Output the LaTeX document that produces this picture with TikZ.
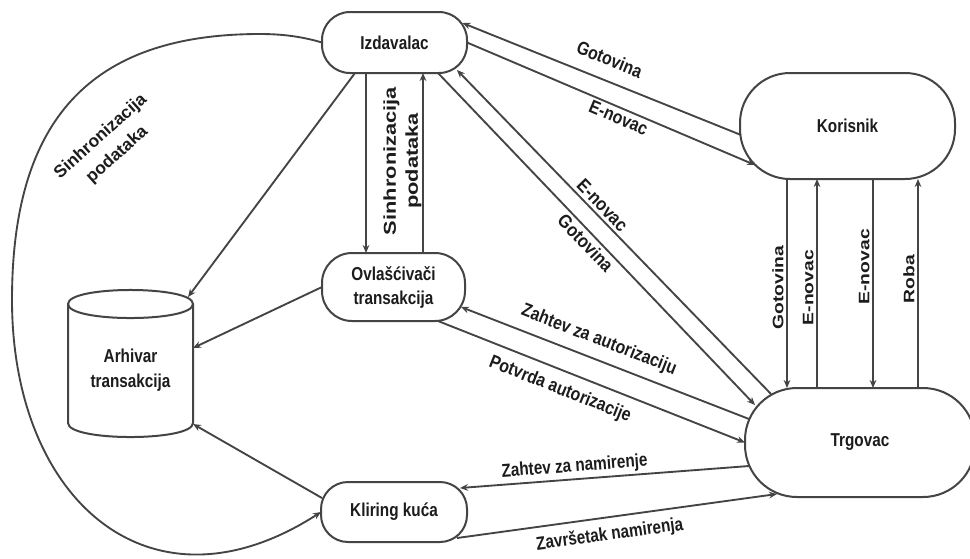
\documentclass[tikz,border=0pt]{standalone}
\usepackage{fontspec}
\setmainfont{Liberation Sans}
% one family per text direction, each with its own width factor
\newfontfamily\hfont{Liberation Sans}[FakeStretch=0.82]
\newfontfamily\mfont{Liberation Sans}[FakeStretch=0.85]
\newfontfamily\dfont{Liberation Sans}[FakeStretch=0.88]
\newfontfamily\cfont{Liberation Sans}
\newfontfamily\vfont{Liberation Sans}[FakeStretch=1.27]
\usetikzlibrary{arrows.meta,calc}
\definecolor{edgecol}{HTML}{444444}
\definecolor{inkcol}{HTML}{1C1C1C}
\begin{document}
\begin{tikzpicture}[x=0.75pt,y=-0.75pt,
  every node/.style={text=inkcol},
  pill/.style n args={3}{draw=edgecol, line width=1.5pt, rounded corners=#3,
    minimum width=#1, minimum height=#2, inner sep=0pt, outer sep=0pt, align=center,
    font=\hfont\fontsize{14}{18}\selectfont\bfseries},
  flow/.style={draw=edgecol, line width=1.4pt, -{Stealth[length=6pt,width=5pt]}},
  backflow/.style={draw=edgecol, line width=1.4pt, {Stealth[length=6pt,width=5pt]}-},
  lbl/.style={sloped, inner sep=2pt, align=center},
  lblh/.style={lbl, font=\hfont\fontsize{14}{18}\selectfont\bfseries},
  lblm/.style={lbl, font=\mfont\fontsize{14}{18}\selectfont\bfseries},
  lbld/.style={lbl, font=\dfont\fontsize{14}{18}\selectfont\bfseries},
  lblv/.style={lbl, font=\vfont\fontsize{11.4}{16}\selectfont\bfseries},
]
\fill[white] (0,0) rectangle (970,558);
\useasboundingbox (0,0) rectangle (970,558);

% participants
\node[pill={108.75pt}{45.75pt}{21pt}]   (iz) at (394.5,42.5) {Izdavalac};
\node[pill={161.25pt}{79.5pt}{37.5pt}]  (ko) at (847.5,126)  {Korisnik};
\node[pill={107.25pt}{51pt}{22.5pt}]    (ov) at (393.5,287)  {Ovlašćivači\\transakcija};
\node[pill={109.5pt}{45pt}{20.25pt}]    (kl) at (394,512)    {Kliring kuća};
\node[pill={172.5pt}{81.75pt}{39pt}]    (tr) at (860,442.5)  {Trgovac};
\node[minimum width=93.75pt, minimum height=99.75pt, inner sep=0pt, outer sep=0pt,
      align=center, font=\hfont\fontsize{14}{18.75}\selectfont\bfseries]
      (arh) at (130.5,370.5) {Arhivar\\transakcija};

% archive drawn as a cylinder
\draw[edgecol, line width=1.5pt]
  (68,304) .. controls (68,285.3) and (193,285.3) .. (193,304)
           .. controls (193,322.7) and (68,322.7) .. cycle;
\draw[edgecol, line width=1.5pt]
  (68,304) -- (68,423) .. controls (68,441.7) and (193,441.7) .. (193,423) -- (193,304);

% issuer <-> user
\draw[flow] ($(ko.center)+(-106.5,9)$) -- node[lblm,above=8pt,pos=.5]{Gotovina} ($(iz.center)+(68,-19.5)$);
\draw[flow] (iz.east) -- node[lblm,below,pos=.54]{E-novac} ($(ko.center)+(-92.5,39)$);

% issuer <-> merchant
\draw[flow] ($(tr.center)+(-89,-48.5)$) -- node[lbld,above,pos=.56]{E-novac} ($(iz.center)+(62.5,27.5)$);
\draw[flow] ($(iz.center)+(43.5,30.5)$) -- node[lbld,below,pos=.49]{Gotovina} ($(tr.center)+(-105,-37.5)$);

% issuer <-> authorizers
\draw[backflow] ($(ov.north)+(-27.5,0)$) coordinate (s1) -- (s1 |- iz.south);
\draw[flow] ($(ov.north)+(29.5,0)$) coordinate (s2) -- (s2 |- iz.south);
\node[rotate=90, align=center, font=\vfont\fontsize{12.9}{16.5}\selectfont\bfseries]
  (syncv) at ($(ov.north)+(9,-92)$) {Sinhronizacija\\podataka};

% archive inputs
\draw[flow] ($(iz.center)+(-39.5,30.5)$) -- ($(arh.center)+(57.5,-73.5)$);
\draw[flow] (ov.west) -- ($(arh.center)+(62.5,-22.5)$);
\draw[flow] ($(kl.center)+(-72,-14)$) -- ($(arh.center)+(62.5,53.5)$);

% issuer -> clearing house, around the left side
\draw[flow] (iz.west) .. controls (300,36) and (280,34) .. (260,34)
  .. controls (90,34) and (12,120) .. (12,300)
  .. controls (12,500) and (150,622) .. (kl.west);
\node[rotate=42, align=center, font=\cfont\fontsize{13}{18.5}\selectfont\bfseries]
  (syncl) at (109,146) {Sinhronizacija\\podataka};

% merchant <-> authorizers
\draw[flow] ($(tr.center)+(-111,-23.5)$) -- node[lblm,above=5pt,pos=.545]{Zahtev za autorizaciju} ($(ov.center)+(67.5,20)$);
\draw[flow] ($(ov.center)+(44.5,34)$) -- node[lblm,below=5pt,pos=.42]{Potvrda autorizacije} (tr.west);

% merchant <-> clearing house
\draw[flow] ($(tr.center)+(-111,23.5)$) -- node[lblh,above,pos=.6]{Zahtev za namirenje} ($(kl.center)+(66,-24)$);
\draw[flow] ($(kl.center)+(63,26)$) -- node[lblh,below=5pt,inner sep=1pt,pos=.47]{Završetak namirenja} ($(tr.center)+(-83,51.5)$);

% user <-> merchant (all paths run upwards so the labels read bottom to top)
\draw[backflow] ($(tr.north)+(-73,0)$) coordinate (g1) -- node[lblv,above,pos=.48]{Gotovina} (g1 |- ko.south);
\draw[flow] ($(tr.north)+(-43,0)$) coordinate (e1) -- node[lblv,above,pos=.48]{E-novac} (e1 |- ko.south);
\draw[backflow] ($(tr.north)+(13,0)$) coordinate (e2) -- node[lblv,above,pos=.58]{E-novac} (e2 |- ko.south);
\draw[flow] ($(tr.north)+(58,0)$) coordinate (r1) -- node[lblv,above,pos=.52]{Roba} (r1 |- ko.south);
\end{tikzpicture}
\end{document}
